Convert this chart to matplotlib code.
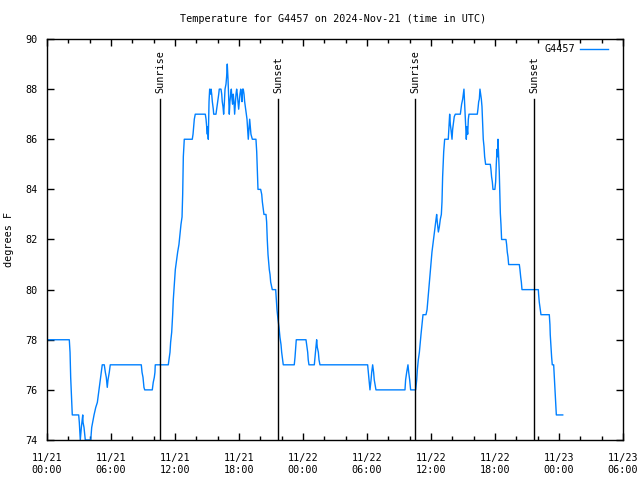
import matplotlib
matplotlib.use("Agg")
import matplotlib.pyplot as plt

# hours since 2024-11-21 00:00 UTC
hours = [0.00, 2.09, 2.16, 2.22, 2.32, 2.37, 2.97, 3.03, 3.12, 3.22, 3.35, 3.38, 3.47, 3.59, 4.10, 4.19, 4.28, 4.41,
         4.57, 4.72, 4.81, 4.90, 5.00, 5.09, 5.18, 5.37, 5.47, 5.56, 5.65, 5.72, 5.84, 5.93, 8.84, 8.91, 9.00, 9.09,
         9.16, 9.87, 9.96, 10.06, 10.12, 10.15, 11.37, 11.53, 11.59, 11.69, 11.78, 11.84, 11.93, 12.03, 12.16, 12.25,
         12.37, 12.47, 12.56, 12.66, 12.72, 12.78, 12.87, 13.62, 13.69, 13.75, 13.81, 13.90, 14.84, 14.91, 14.97,
         15.03, 15.06, 15.12, 15.19, 15.25, 15.31, 15.38, 15.44, 15.50, 15.59, 15.63, 15.84, 15.94, 16.00, 16.10,
         16.15, 16.31, 16.38, 16.43, 16.50, 16.56, 16.62, 16.69, 16.78, 16.84, 16.90, 16.97, 17.03, 17.09, 17.15,
         17.22, 17.28, 17.34, 17.40, 17.46, 17.53, 17.59, 17.65, 17.72, 17.78, 17.84, 17.90, 17.97, 18.03, 18.09,
         18.16, 18.22, 18.28, 18.34, 18.40, 18.47, 18.53, 18.62, 18.68, 18.75, 18.81, 18.87, 18.94, 19.00, 19.06,
         19.12, 19.25, 19.59, 19.66, 19.72, 19.78, 20.03, 20.13, 20.19, 20.28, 20.34, 20.53, 20.59, 20.65, 20.72,
         20.78, 20.84, 20.91, 20.97, 21.12, 21.44, 21.50, 21.56, 21.66, 21.75, 21.84, 21.94, 22.00, 22.09, 22.15,
         23.18, 23.25, 23.32, 23.37, 24.28, 24.37, 24.44, 24.49, 24.56, 25.06, 25.12, 25.19, 25.28, 25.34, 25.44,
         25.50, 25.59, 30.06, 30.12, 30.19, 30.28, 30.38, 30.44, 30.53, 30.62, 30.68, 30.84, 33.56, 33.62, 33.72,
         33.84, 33.91, 34.00, 34.09, 34.56, 34.66, 34.72, 34.81, 34.91, 34.97, 35.06, 35.16, 35.25, 35.53, 35.63,
         35.69, 35.78, 35.84, 35.93, 36.00, 36.09, 36.19, 36.28, 36.37, 36.47, 36.53, 36.59, 36.69, 36.78, 36.87,
         36.97, 37.03, 37.09, 37.19, 37.28, 37.62, 37.68, 37.75, 37.81, 37.87, 37.97, 38.03, 38.09, 38.18, 38.28,
         38.75, 38.81, 38.87, 38.97, 39.03, 39.09, 39.16, 39.21, 39.31, 39.37, 39.44, 39.50, 39.56, 40.34, 40.40,
         40.47, 40.53, 40.59, 40.66, 40.72, 40.78, 40.84, 40.90, 40.97, 41.03, 41.12, 41.56, 41.62, 41.68, 41.75,
         41.81, 41.99, 42.06, 42.12, 42.19, 42.25, 42.28, 42.34, 42.40, 42.44, 42.50, 42.56, 42.62, 43.03, 43.09,
         43.15, 43.22, 43.28, 44.28, 44.34, 44.41, 44.47, 44.53, 46.06, 46.09, 46.15, 46.25, 46.31, 47.09, 47.15,
         47.18, 47.25, 47.31, 47.37, 47.50, 47.56, 47.62, 47.69, 47.75, 48.35]

temps = [78.0, 78.0, 77.5, 76.5, 75.5, 75.0, 75.0, 74.7, 74.0, 74.5, 75.0, 74.7, 74.5, 74.0, 74.0, 74.5, 74.7, 75.0,
         75.3, 75.5, 75.8, 76.1, 76.4, 76.7, 77.0, 77.0, 76.7, 76.5, 76.1, 76.4, 76.7, 77.0, 77.0, 76.7, 76.5, 76.1,
         76.0, 76.0, 76.3, 76.5, 76.7, 77.0, 77.0, 77.5, 77.9, 78.3, 79.0, 79.6, 80.2, 80.8, 81.2, 81.5,
         81.8, 82.2, 82.6, 82.9, 83.8, 85.3, 86.0, 86.0, 86.2, 86.5, 86.8, 87.0, 87.0, 86.8, 86.5,
         86.2, 86.5, 86.0, 87.5, 88.0, 87.8, 88.0, 87.8, 87.5, 87.2, 87.0, 87.0, 87.3, 87.5, 87.8,
         88.0, 88.0, 87.8, 87.5, 87.3, 87.0, 87.4, 88.0, 88.2, 88.5, 89.0, 88.4, 87.7, 87.0, 87.5,
         87.8, 88.0, 87.6, 87.4, 87.8, 87.5, 87.0, 87.4, 87.8, 88.0, 87.8, 87.5, 87.2, 87.5, 87.8,
         88.0, 87.8, 87.5, 88.0, 88.0, 87.8, 87.5, 87.2, 87.0, 86.8, 86.4, 86.0, 86.4, 86.8, 86.5,
         86.2, 86.0, 86.0, 85.5, 84.8, 84.0, 84.0, 83.8, 83.5, 83.2, 83.0, 83.0, 82.7, 82.0, 81.4,
         81.1, 80.8, 80.6, 80.3, 80.0, 80.0, 79.6, 79.2, 78.8, 78.5, 78.1, 77.8, 77.5, 77.2, 77.0,
         77.0, 77.3, 77.7, 78.0, 78.0, 77.7, 77.5, 77.2, 77.0, 77.0, 77.3, 77.6, 78.0, 77.7, 77.5,
         77.2, 77.0, 77.0, 76.7, 76.4, 76.0, 76.4, 76.7, 77.0, 76.7, 76.4, 76.0, 76.0, 76.4, 76.7,
         77.0, 76.7, 76.4, 76.0, 76.0, 76.4, 76.8, 77.2, 77.5, 77.8, 78.2, 78.6, 79.0, 79.0, 79.2,
         79.5, 79.9, 80.25, 80.7, 81.1, 81.5, 81.85, 82.2, 82.5, 82.8, 83.0, 82.7, 82.3, 82.5, 82.8,
         83.0, 83.5, 84.5, 85.5, 86.0, 86.0, 86.5, 87.0, 86.6, 86.4, 86.0, 86.4, 86.6, 86.9, 87.0,
         87.0, 87.2, 87.4, 87.6, 87.8, 88.0, 87.4, 86.9, 86.0, 86.5, 86.2, 86.8, 87.0, 87.0, 87.2,
         87.5, 87.6, 88.0, 87.8, 87.6, 87.3, 86.7, 86.0, 85.7, 85.3, 85.0, 85.0, 84.8, 84.5, 84.3,
         84.0, 84.0, 84.3, 85.0, 85.6, 85.3, 86.0, 85.3, 84.7, 84.0, 83.05, 82.6, 82.0, 82.0, 81.8,
         81.5, 81.3, 81.0, 81.0, 80.8, 80.5, 80.3, 80.0, 80.0, 79.8, 79.5, 79.2, 79.0, 79.0, 78.6,
         78.2, 77.7, 77.3, 77.0, 77.0, 76.5, 76.0, 75.5, 75.0, 75.0]

sun_hours = [10.64, 21.69, 34.53, 45.69]
sun_labels = ["Sunrise", "Sunset", "Sunrise", "Sunset"]

xtick_hours = [0, 6, 12, 18, 24, 30, 36, 42, 48, 54]
xtick_labels = ["11/21\n00:00", "11/21\n06:00", "11/21\n12:00", "11/21\n18:00", "11/22\n00:00",
                "11/22\n06:00", "11/22\n12:00", "11/22\n18:00", "11/23\n00:00", "11/23\n06:00"]
yticks = [74, 76, 78, 80, 82, 84, 86, 88, 90]

plt.rcParams['font.family'] = ['DejaVu Sans Mono']
plt.rcParams['font.size'] = 7

fig = plt.figure(figsize=(6.4, 4.8), dpi=100)
ax = fig.add_axes([47/640, 1 - 440/480, 576/640, 401/480])

ax.plot(hours, temps, color='#0080ff', lw=1.0, label='G4457')

for h, lab in zip(sun_hours, sun_labels):
    ax.plot([h, h], [74, 87.6], color='black', lw=1.0)
    ax.text(h, 87.85, lab, rotation=90, ha='center', va='bottom', fontsize=7.3)

ax.set_xlim(0, 54)
ax.set_ylim(74, 90)
ax.set_xticks(xtick_hours)
ax.set_xticklabels(xtick_labels, fontsize=7.3, linespacing=1.35)
ax.set_xticks(list(range(0, 55, 2)), minor=True)
ax.set_yticks(yticks)
ax.set_yticklabels([str(v) for v in yticks], fontsize=7.3)
ax.tick_params(axis='x', which='major', pad=9)
ax.tick_params(axis='y', which='major', pad=7)
ax.tick_params(which='major', direction='in', length=5, width=1, top=True, right=True)
ax.tick_params(which='minor', direction='in', length=3, width=1, top=True, right=True)
for s in ax.spines.values():
    s.set_linewidth(1.0)

ax.set_ylabel("degrees F", fontsize=7.3, labelpad=8)
fig.text(333/640, 1 - 19/480, "Temperature for G4457 on 2024-Nov-21 (time in UTC)",
         ha='center', va='center', fontsize=7.3)

leg = ax.legend(loc='upper right', bbox_to_anchor=(0.978, 0.992), frameon=False, markerfirst=False,
                handlelength=2.8, fontsize=7.3, borderaxespad=0.0, handletextpad=0.5, borderpad=0.2)

fig.savefig("out.png", dpi=100)
